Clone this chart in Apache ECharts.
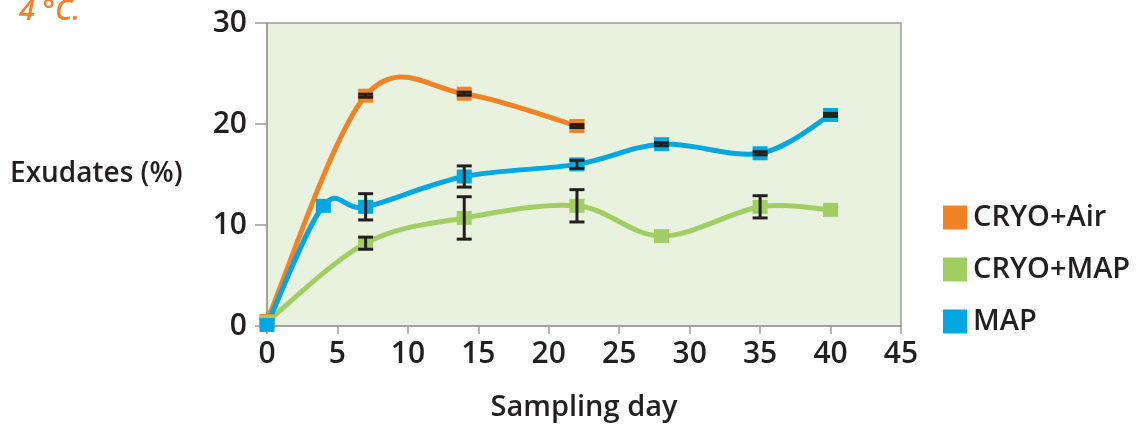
<!DOCTYPE html>
<html>
<head>
<meta charset="utf-8">
<script src="https://cdn.jsdelivr.net/npm/echarts@6/dist/echarts.min.js"></script>
<style>
html,body{margin:0;padding:0;background:#fff;}
#chart{width:1146px;height:427px;}
</style>
</head>
<body>
<div id="chart"></div>
<script>
// ---- data ----
const seriesNames = ['CRYO+Air', 'CRYO+MAP', 'MAP'];
const xTicks = [0, 5, 10, 15, 20, 25, 30, 35, 40, 45];
const yTicks = [0, 10, 20, 30];

const airDays = [0, 7, 14, 22];
const airValues = [0.5, 22.8, 23.0, 19.8];
const airErrors = [0, 0.15, 0.15, 0.15];

const cryoMapDays = [0, 7, 14, 22, 28, 35, 40];
const cryoMapValues = [0.4, 8.2, 10.7, 11.9, 8.9, 11.8, 11.5];
const cryoMapErrors = [0, 0.6, 2.1, 1.6, 0, 1.1, 0];

const mapDays = [0, 4, 7, 14, 22, 28, 35, 40];
const mapValues = [0.1, 11.9, 11.8, 14.8, 16.0, 18.0, 17.1, 20.9];
const mapErrors = [0, 0, 1.3, 1.05, 0.4, 0.15, 0.15, 0.15];

// ---- styling ----
const colors = ['#F18226', '#A1CE63', '#00A7E1'];
const FONT = '"Open Sans", "Noto Sans", sans-serif';
const TXT = '#231F20';
const GRAY = '#9C9C9C';

function pairs(xs, ys) { return xs.map((x, i) => [x, ys[i]]); }
function errTriples(xs, ys, es) {
  const out = [];
  xs.forEach((x, i) => { if (es[i] > 0) out.push([x, ys[i], es[i]]); });
  return out;
}

const errData = []
  .concat(errTriples(airDays, airValues, airErrors))
  .concat(errTriples(cryoMapDays, cryoMapValues, cryoMapErrors))
  .concat(errTriples(mapDays, mapValues, mapErrors));

// marker-only line series (legend + square symbols)
function markerSeries(name, xs, ys, color, z) {
  return {
    name: name,
    type: 'line',
    data: pairs(xs, ys),
    symbol: 'rect',
    symbolSize: [15, 14],
    showSymbol: true,
    itemStyle: { color: color },
    lineStyle: { color: color, width: 0, opacity: 0 },
    z: z,
    animation: false
  };
}

// smooth (Catmull-Rom, spreadsheet-style) curve through the data, via axis coords
function curveSeries(xs, ys, color, z) {
  return {
    type: 'custom',
    data: pairs(xs, ys),
    z: z,
    silent: true,
    animation: false,
    renderItem: function (params, api) {
      if (params.dataIndex !== 0) return null;
      const P = xs.map((x, i) => api.coord([x, ys[i]]));
      const n = P.length;
      let d = 'M' + P[0][0] + ' ' + P[0][1];
      for (let i = 0; i < n - 1; i++) {
        const p0 = P[Math.max(i - 1, 0)];
        const p1 = P[i];
        const p2 = P[i + 1];
        const p3 = P[Math.min(i + 2, n - 1)];
        const c1x = p1[0] + (p2[0] - p0[0]) / 6;
        const c1y = p1[1] + (p2[1] - p0[1]) / 6;
        const c2x = p2[0] - (p3[0] - p1[0]) / 6;
        const c2y = p2[1] - (p3[1] - p1[1]) / 6;
        d += ' C' + c1x + ' ' + c1y + ' ' + c2x + ' ' + c2y + ' ' + p2[0] + ' ' + p2[1];
      }
      return {
        type: 'path',
        shape: { pathData: d },
        style: { fill: null, stroke: color, lineWidth: 5, lineJoin: 'round', lineCap: 'round' }
      };
    }
  };
}

const labelFont = { color: TXT, fontSize: 30, fontFamily: FONT, fontWeight: 600 };

const chart = echarts.init(document.getElementById('chart'));
chart.setOption({
  animation: false,
  backgroundColor: '#ffffff',
  grid: {
    left: 267, right: 245, top: 23, bottom: 100,
    show: true,
    backgroundColor: '#E8F2DE',
    borderColor: GRAY,
    borderWidth: 1.5
  },
  graphic: [
    {
      type: 'text', left: 19, top: -3,
      style: { text: '4 °C.', fill: '#F18226', font: 'italic 600 29px ' + FONT }
    },
    {
      type: 'text', left: 10, top: 160,
      style: { text: 'Exudates (%)', fill: TXT, font: '600 28px ' + FONT }
    }
  ],
  legend: {
    data: seriesNames,
    orient: 'vertical',
    left: 938, top: 198,
    icon: 'rect',
    itemWidth: 24, itemHeight: 24,
    itemGap: 23,
    textStyle: { color: TXT, fontSize: 29, fontFamily: FONT, fontWeight: 600, padding: [0, 0, 0, 1] }
  },
  xAxis: {
    type: 'value',
    min: 0, max: 45, interval: 5,
    name: 'Sampling day',
    nameLocation: 'middle',
    nameGap: 67,
    nameTextStyle: { color: TXT, fontSize: 29, fontFamily: FONT, fontWeight: 600 },
    axisLine: { show: true, lineStyle: { color: GRAY, width: 1.5 } },
    axisTick: { show: true, length: 8, lineStyle: { color: GRAY, width: 1.5 } },
    axisLabel: Object.assign({ margin: 13, formatter: v => xTicks.includes(v) ? String(v) : '' }, labelFont),
    splitLine: { show: false }
  },
  yAxis: {
    type: 'value',
    min: 0, max: 30, interval: 10,
    axisLine: { show: true, lineStyle: { color: GRAY, width: 1.5 } },
    axisTick: { show: true, length: 12, lineStyle: { color: GRAY, width: 1.5 } },
    axisLabel: Object.assign({ margin: 20, formatter: v => yTicks.includes(v) ? String(v) : '' }, labelFont),
    splitLine: { show: false }
  },
  series: [
    curveSeries(airDays, airValues, colors[0], 2),
    curveSeries(cryoMapDays, cryoMapValues, colors[1], 3),
    curveSeries(mapDays, mapValues, colors[2], 4),
    markerSeries(seriesNames[0], airDays, airValues, colors[0], 5),
    markerSeries(seriesNames[1], cryoMapDays, cryoMapValues, colors[1], 6),
    markerSeries(seriesNames[2], mapDays, mapValues, colors[2], 7),
    {
      type: 'custom',
      name: 'errors',
      data: errData,
      z: 10,
      silent: true,
      renderItem: function (params, api) {
        const x = api.value(0), y = api.value(1), e = api.value(2);
        const top = api.coord([x, y + e]);
        const bot = api.coord([x, y - e]);
        const hw = 7.5;
        const st = { stroke: '#231F20', lineWidth: 3 };
        return {
          type: 'group',
          children: [
            { type: 'line', shape: { x1: top[0], y1: top[1], x2: bot[0], y2: bot[1] }, style: st },
            { type: 'line', shape: { x1: top[0] - hw, y1: top[1], x2: top[0] + hw, y2: top[1] }, style: st },
            { type: 'line', shape: { x1: bot[0] - hw, y1: bot[1], x2: bot[0] + hw, y2: bot[1] }, style: st }
          ]
        };
      },
      animation: false
    }
  ]
});
</script>
</body>
</html>
